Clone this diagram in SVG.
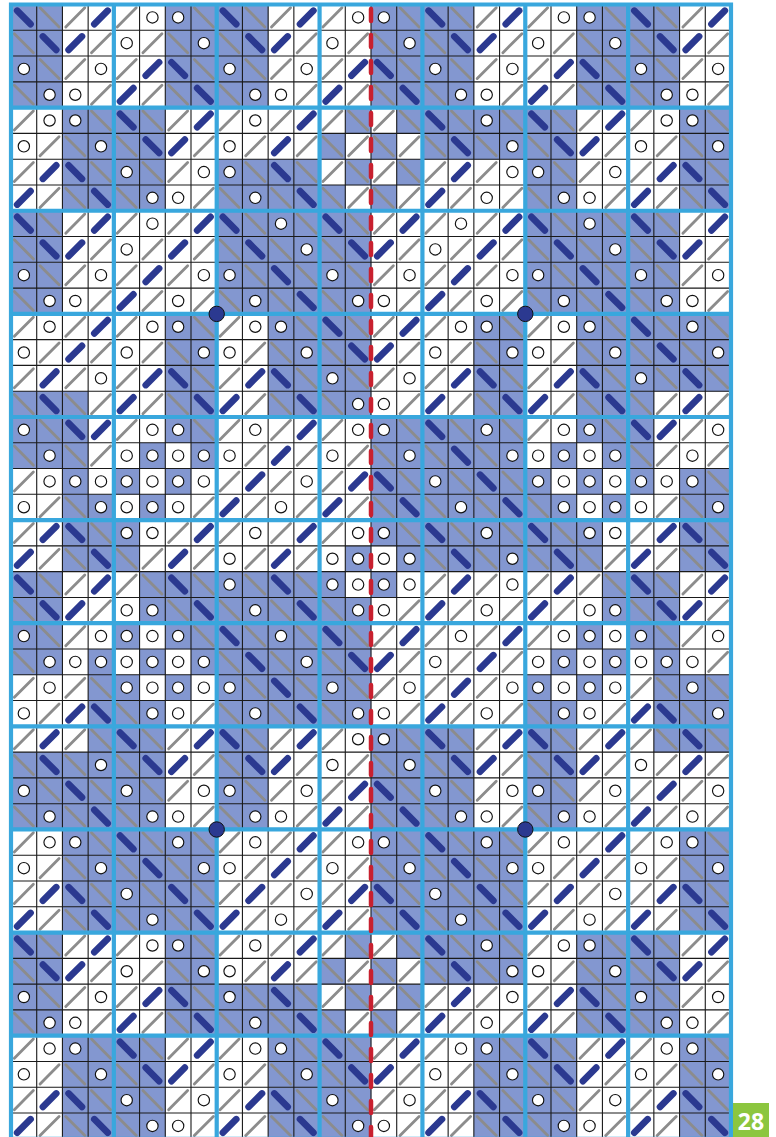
<svg xmlns="http://www.w3.org/2000/svg" width="776" height="1137" viewBox="0 0 776 1137">
<style>
.bl{fill:#8397d0}
.g{stroke:#8c8c8c;stroke-width:.11;stroke-linecap:round}
.t{stroke:#2b3990;stroke-width:.26;stroke-linecap:round}
.c{fill:#fff;stroke:#111;stroke-width:.045}
.thin{fill:none;stroke:#1a1a1a;stroke-width:1.1;vector-effect:non-scaling-stroke}
.blk{fill:none;stroke:#39a7dd;stroke-width:4.2;stroke-linecap:square;vector-effect:non-scaling-stroke}
.red{fill:none;stroke:#c8202f;stroke-width:4.5;stroke-linecap:round;stroke-dasharray:12 14}
.dot{fill:#2b3990;stroke:#111;stroke-width:1}
</style>
<defs>
<g id="s"><line class="g" x1=".13" y1=".87" x2=".87" y2=".13"/></g>
<g id="b"><rect class="bl" width="1.01" height="1.01"/><line class="g" x1=".13" y1=".13" x2=".87" y2=".87"/></g>
<g id="F"><line class="t" x1=".24" y1=".76" x2=".76" y2=".24"/></g>
<g id="K"><rect class="bl" width="1.01" height="1.01"/><line class="t" x1=".24" y1=".24" x2=".76" y2=".76"/></g>
<g id="o"><circle class="c" cx=".5" cy=".5" r=".22"/></g>
<g id="O"><rect class="bl" width="1.01" height="1.01"/><circle class="c" cx=".5" cy=".5" r=".22"/></g>
</defs>
<g id="chart" transform="translate(11 4.5) scale(25.714 25.78)">
<rect width="28" height="44" fill="#fff"/>
<g id="cells">
<g transform="translate(0 0)"><use href="#K"/><use href="#b" x="1"/><use href="#s" x="2"/><use href="#F" x="3"/><use href="#s" x="4"/><use href="#o" x="5"/><use href="#O" x="6"/><use href="#b" x="7"/><use href="#K" x="8"/><use href="#b" x="9"/><use href="#s" x="10"/><use href="#F" x="11"/><use href="#s" x="12"/><use href="#o" x="13"/><use href="#O" x="14"/><use href="#b" x="15"/><use href="#K" x="16"/><use href="#b" x="17"/><use href="#s" x="18"/><use href="#F" x="19"/><use href="#s" x="20"/><use href="#o" x="21"/><use href="#O" x="22"/><use href="#b" x="23"/><use href="#K" x="24"/><use href="#b" x="25"/><use href="#s" x="26"/><use href="#F" x="27"/></g>
<g transform="translate(0 1)"><use href="#b"/><use href="#K" x="1"/><use href="#F" x="2"/><use href="#s" x="3"/><use href="#o" x="4"/><use href="#s" x="5"/><use href="#b" x="6"/><use href="#O" x="7"/><use href="#b" x="8"/><use href="#K" x="9"/><use href="#F" x="10"/><use href="#s" x="11"/><use href="#o" x="12"/><use href="#s" x="13"/><use href="#b" x="14"/><use href="#O" x="15"/><use href="#b" x="16"/><use href="#K" x="17"/><use href="#F" x="18"/><use href="#s" x="19"/><use href="#o" x="20"/><use href="#s" x="21"/><use href="#b" x="22"/><use href="#O" x="23"/><use href="#b" x="24"/><use href="#K" x="25"/><use href="#F" x="26"/><use href="#s" x="27"/></g>
<g transform="translate(0 2)"><use href="#O"/><use href="#b" x="1"/><use href="#s" x="2"/><use href="#o" x="3"/><use href="#s" x="4"/><use href="#F" x="5"/><use href="#K" x="6"/><use href="#b" x="7"/><use href="#O" x="8"/><use href="#b" x="9"/><use href="#s" x="10"/><use href="#o" x="11"/><use href="#s" x="12"/><use href="#F" x="13"/><use href="#K" x="14"/><use href="#b" x="15"/><use href="#O" x="16"/><use href="#b" x="17"/><use href="#s" x="18"/><use href="#o" x="19"/><use href="#s" x="20"/><use href="#F" x="21"/><use href="#K" x="22"/><use href="#b" x="23"/><use href="#O" x="24"/><use href="#b" x="25"/><use href="#s" x="26"/><use href="#o" x="27"/></g>
<g transform="translate(0 3)"><use href="#b"/><use href="#O" x="1"/><use href="#o" x="2"/><use href="#s" x="3"/><use href="#F" x="4"/><use href="#s" x="5"/><use href="#b" x="6"/><use href="#K" x="7"/><use href="#b" x="8"/><use href="#O" x="9"/><use href="#o" x="10"/><use href="#s" x="11"/><use href="#F" x="12"/><use href="#s" x="13"/><use href="#b" x="14"/><use href="#K" x="15"/><use href="#b" x="16"/><use href="#O" x="17"/><use href="#o" x="18"/><use href="#s" x="19"/><use href="#F" x="20"/><use href="#s" x="21"/><use href="#b" x="22"/><use href="#K" x="23"/><use href="#b" x="24"/><use href="#O" x="25"/><use href="#o" x="26"/><use href="#s" x="27"/></g>
<g transform="translate(0 4)"><use href="#s"/><use href="#o" x="1"/><use href="#O" x="2"/><use href="#b" x="3"/><use href="#K" x="4"/><use href="#b" x="5"/><use href="#s" x="6"/><use href="#F" x="7"/><use href="#s" x="8"/><use href="#o" x="9"/><use href="#s" x="10"/><use href="#F" x="11"/><use href="#s" x="12"/><use href="#b" x="13"/><use href="#s" x="14"/><use href="#b" x="15"/><use href="#K" x="16"/><use href="#b" x="17"/><use href="#O" x="18"/><use href="#b" x="19"/><use href="#K" x="20"/><use href="#b" x="21"/><use href="#s" x="22"/><use href="#F" x="23"/><use href="#s" x="24"/><use href="#o" x="25"/><use href="#O" x="26"/><use href="#b" x="27"/></g>
<g transform="translate(0 5)"><use href="#o"/><use href="#s" x="1"/><use href="#b" x="2"/><use href="#O" x="3"/><use href="#b" x="4"/><use href="#K" x="5"/><use href="#F" x="6"/><use href="#s" x="7"/><use href="#o" x="8"/><use href="#s" x="9"/><use href="#F" x="10"/><use href="#s" x="11"/><use href="#b" x="12"/><use href="#s" x="13"/><use href="#b" x="14"/><use href="#s" x="15"/><use href="#b" x="16"/><use href="#K" x="17"/><use href="#b" x="18"/><use href="#O" x="19"/><use href="#b" x="20"/><use href="#K" x="21"/><use href="#F" x="22"/><use href="#s" x="23"/><use href="#o" x="24"/><use href="#s" x="25"/><use href="#b" x="26"/><use href="#O" x="27"/></g>
<g transform="translate(0 6)"><use href="#s"/><use href="#F" x="1"/><use href="#K" x="2"/><use href="#b" x="3"/><use href="#O" x="4"/><use href="#b" x="5"/><use href="#s" x="6"/><use href="#o" x="7"/><use href="#O" x="8"/><use href="#b" x="9"/><use href="#K" x="10"/><use href="#b" x="11"/><use href="#s" x="12"/><use href="#b" x="13"/><use href="#s" x="14"/><use href="#b" x="15"/><use href="#s" x="16"/><use href="#F" x="17"/><use href="#s" x="18"/><use href="#o" x="19"/><use href="#O" x="20"/><use href="#b" x="21"/><use href="#s" x="22"/><use href="#o" x="23"/><use href="#s" x="24"/><use href="#F" x="25"/><use href="#K" x="26"/><use href="#b" x="27"/></g>
<g transform="translate(0 7)"><use href="#F"/><use href="#s" x="1"/><use href="#b" x="2"/><use href="#K" x="3"/><use href="#b" x="4"/><use href="#O" x="5"/><use href="#o" x="6"/><use href="#s" x="7"/><use href="#b" x="8"/><use href="#O" x="9"/><use href="#b" x="10"/><use href="#K" x="11"/><use href="#b" x="12"/><use href="#s" x="13"/><use href="#b" x="14"/><use href="#s" x="15"/><use href="#F" x="16"/><use href="#s" x="17"/><use href="#o" x="18"/><use href="#s" x="19"/><use href="#b" x="20"/><use href="#O" x="21"/><use href="#o" x="22"/><use href="#s" x="23"/><use href="#F" x="24"/><use href="#s" x="25"/><use href="#b" x="26"/><use href="#K" x="27"/></g>
<g transform="translate(0 8)"><use href="#K"/><use href="#b" x="1"/><use href="#s" x="2"/><use href="#F" x="3"/><use href="#s" x="4"/><use href="#o" x="5"/><use href="#s" x="6"/><use href="#F" x="7"/><use href="#K" x="8"/><use href="#b" x="9"/><use href="#O" x="10"/><use href="#b" x="11"/><use href="#K" x="12"/><use href="#b" x="13"/><use href="#s" x="14"/><use href="#F" x="15"/><use href="#s" x="16"/><use href="#o" x="17"/><use href="#s" x="18"/><use href="#F" x="19"/><use href="#K" x="20"/><use href="#b" x="21"/><use href="#O" x="22"/><use href="#b" x="23"/><use href="#K" x="24"/><use href="#b" x="25"/><use href="#s" x="26"/><use href="#F" x="27"/></g>
<g transform="translate(0 9)"><use href="#b"/><use href="#K" x="1"/><use href="#F" x="2"/><use href="#s" x="3"/><use href="#o" x="4"/><use href="#s" x="5"/><use href="#F" x="6"/><use href="#s" x="7"/><use href="#b" x="8"/><use href="#K" x="9"/><use href="#b" x="10"/><use href="#O" x="11"/><use href="#b" x="12"/><use href="#K" x="13"/><use href="#F" x="14"/><use href="#s" x="15"/><use href="#o" x="16"/><use href="#s" x="17"/><use href="#F" x="18"/><use href="#s" x="19"/><use href="#b" x="20"/><use href="#K" x="21"/><use href="#b" x="22"/><use href="#O" x="23"/><use href="#b" x="24"/><use href="#K" x="25"/><use href="#F" x="26"/><use href="#s" x="27"/></g>
<g transform="translate(0 10)"><use href="#O"/><use href="#b" x="1"/><use href="#s" x="2"/><use href="#o" x="3"/><use href="#s" x="4"/><use href="#F" x="5"/><use href="#s" x="6"/><use href="#o" x="7"/><use href="#O" x="8"/><use href="#b" x="9"/><use href="#K" x="10"/><use href="#b" x="11"/><use href="#O" x="12"/><use href="#b" x="13"/><use href="#s" x="14"/><use href="#o" x="15"/><use href="#s" x="16"/><use href="#F" x="17"/><use href="#s" x="18"/><use href="#o" x="19"/><use href="#O" x="20"/><use href="#b" x="21"/><use href="#K" x="22"/><use href="#b" x="23"/><use href="#O" x="24"/><use href="#b" x="25"/><use href="#s" x="26"/><use href="#o" x="27"/></g>
<g transform="translate(0 11)"><use href="#b"/><use href="#O" x="1"/><use href="#o" x="2"/><use href="#s" x="3"/><use href="#F" x="4"/><use href="#s" x="5"/><use href="#o" x="6"/><use href="#s" x="7"/><use href="#b" x="8"/><use href="#O" x="9"/><use href="#b" x="10"/><use href="#K" x="11"/><use href="#b" x="12"/><use href="#O" x="13"/><use href="#o" x="14"/><use href="#s" x="15"/><use href="#F" x="16"/><use href="#s" x="17"/><use href="#o" x="18"/><use href="#s" x="19"/><use href="#b" x="20"/><use href="#O" x="21"/><use href="#b" x="22"/><use href="#K" x="23"/><use href="#b" x="24"/><use href="#O" x="25"/><use href="#o" x="26"/><use href="#s" x="27"/></g>
<g transform="translate(0 12)"><use href="#s"/><use href="#o" x="1"/><use href="#s" x="2"/><use href="#F" x="3"/><use href="#s" x="4"/><use href="#o" x="5"/><use href="#O" x="6"/><use href="#b" x="7"/><use href="#s" x="8"/><use href="#o" x="9"/><use href="#O" x="10"/><use href="#b" x="11"/><use href="#K" x="12"/><use href="#b" x="13"/><use href="#s" x="14"/><use href="#F" x="15"/><use href="#s" x="16"/><use href="#o" x="17"/><use href="#O" x="18"/><use href="#b" x="19"/><use href="#s" x="20"/><use href="#o" x="21"/><use href="#O" x="22"/><use href="#b" x="23"/><use href="#K" x="24"/><use href="#b" x="25"/><use href="#O" x="26"/><use href="#b" x="27"/></g>
<g transform="translate(0 13)"><use href="#o"/><use href="#s" x="1"/><use href="#F" x="2"/><use href="#s" x="3"/><use href="#o" x="4"/><use href="#s" x="5"/><use href="#b" x="6"/><use href="#O" x="7"/><use href="#o" x="8"/><use href="#s" x="9"/><use href="#b" x="10"/><use href="#O" x="11"/><use href="#b" x="12"/><use href="#K" x="13"/><use href="#F" x="14"/><use href="#s" x="15"/><use href="#o" x="16"/><use href="#s" x="17"/><use href="#b" x="18"/><use href="#O" x="19"/><use href="#o" x="20"/><use href="#s" x="21"/><use href="#b" x="22"/><use href="#O" x="23"/><use href="#b" x="24"/><use href="#K" x="25"/><use href="#b" x="26"/><use href="#O" x="27"/></g>
<g transform="translate(0 14)"><use href="#s"/><use href="#F" x="1"/><use href="#s" x="2"/><use href="#o" x="3"/><use href="#s" x="4"/><use href="#F" x="5"/><use href="#K" x="6"/><use href="#b" x="7"/><use href="#s" x="8"/><use href="#F" x="9"/><use href="#K" x="10"/><use href="#b" x="11"/><use href="#O" x="12"/><use href="#b" x="13"/><use href="#s" x="14"/><use href="#o" x="15"/><use href="#s" x="16"/><use href="#F" x="17"/><use href="#K" x="18"/><use href="#b" x="19"/><use href="#s" x="20"/><use href="#F" x="21"/><use href="#K" x="22"/><use href="#b" x="23"/><use href="#O" x="24"/><use href="#b" x="25"/><use href="#K" x="26"/><use href="#b" x="27"/></g>
<g transform="translate(0 15)"><use href="#b"/><use href="#K" x="1"/><use href="#b" x="2"/><use href="#s" x="3"/><use href="#F" x="4"/><use href="#s" x="5"/><use href="#b" x="6"/><use href="#K" x="7"/><use href="#F" x="8"/><use href="#s" x="9"/><use href="#b" x="10"/><use href="#K" x="11"/><use href="#b" x="12"/><use href="#O" x="13"/><use href="#o" x="14"/><use href="#s" x="15"/><use href="#F" x="16"/><use href="#s" x="17"/><use href="#b" x="18"/><use href="#K" x="19"/><use href="#F" x="20"/><use href="#s" x="21"/><use href="#b" x="22"/><use href="#K" x="23"/><use href="#b" x="24"/><use href="#s" x="25"/><use href="#F" x="26"/><use href="#s" x="27"/></g>
<g transform="translate(0 16)"><use href="#O"/><use href="#b" x="1"/><use href="#K" x="2"/><use href="#F" x="3"/><use href="#s" x="4"/><use href="#o" x="5"/><use href="#O" x="6"/><use href="#b" x="7"/><use href="#s" x="8"/><use href="#o" x="9"/><use href="#s" x="10"/><use href="#F" x="11"/><use href="#s" x="12"/><use href="#o" x="13"/><use href="#O" x="14"/><use href="#b" x="15"/><use href="#K" x="16"/><use href="#b" x="17"/><use href="#O" x="18"/><use href="#b" x="19"/><use href="#s" x="20"/><use href="#o" x="21"/><use href="#O" x="22"/><use href="#b" x="23"/><use href="#K" x="24"/><use href="#F" x="25"/><use href="#s" x="26"/><use href="#o" x="27"/></g>
<g transform="translate(0 17)"><use href="#b"/><use href="#O" x="1"/><use href="#b" x="2"/><use href="#s" x="3"/><use href="#o" x="4"/><use href="#O" x="5"/><use href="#o" x="6"/><use href="#O" x="7"/><use href="#o" x="8"/><use href="#s" x="9"/><use href="#F" x="10"/><use href="#s" x="11"/><use href="#o" x="12"/><use href="#s" x="13"/><use href="#b" x="14"/><use href="#O" x="15"/><use href="#b" x="16"/><use href="#K" x="17"/><use href="#b" x="18"/><use href="#O" x="19"/><use href="#o" x="20"/><use href="#O" x="21"/><use href="#o" x="22"/><use href="#O" x="23"/><use href="#b" x="24"/><use href="#s" x="25"/><use href="#o" x="26"/><use href="#s" x="27"/></g>
<g transform="translate(0 18)"><use href="#s"/><use href="#o" x="1"/><use href="#O" x="2"/><use href="#o" x="3"/><use href="#O" x="4"/><use href="#o" x="5"/><use href="#O" x="6"/><use href="#o" x="7"/><use href="#s" x="8"/><use href="#F" x="9"/><use href="#s" x="10"/><use href="#o" x="11"/><use href="#s" x="12"/><use href="#F" x="13"/><use href="#K" x="14"/><use href="#b" x="15"/><use href="#O" x="16"/><use href="#b" x="17"/><use href="#K" x="18"/><use href="#b" x="19"/><use href="#O" x="20"/><use href="#o" x="21"/><use href="#O" x="22"/><use href="#o" x="23"/><use href="#O" x="24"/><use href="#o" x="25"/><use href="#O" x="26"/><use href="#b" x="27"/></g>
<g transform="translate(0 19)"><use href="#o"/><use href="#s" x="1"/><use href="#b" x="2"/><use href="#O" x="3"/><use href="#o" x="4"/><use href="#O" x="5"/><use href="#o" x="6"/><use href="#s" x="7"/><use href="#F" x="8"/><use href="#s" x="9"/><use href="#o" x="10"/><use href="#s" x="11"/><use href="#F" x="12"/><use href="#s" x="13"/><use href="#b" x="14"/><use href="#K" x="15"/><use href="#b" x="16"/><use href="#O" x="17"/><use href="#b" x="18"/><use href="#K" x="19"/><use href="#b" x="20"/><use href="#O" x="21"/><use href="#o" x="22"/><use href="#O" x="23"/><use href="#o" x="24"/><use href="#s" x="25"/><use href="#b" x="26"/><use href="#O" x="27"/></g>
<g transform="translate(0 20)"><use href="#s"/><use href="#F" x="1"/><use href="#K" x="2"/><use href="#b" x="3"/><use href="#O" x="4"/><use href="#o" x="5"/><use href="#s" x="6"/><use href="#F" x="7"/><use href="#s" x="8"/><use href="#o" x="9"/><use href="#s" x="10"/><use href="#F" x="11"/><use href="#s" x="12"/><use href="#o" x="13"/><use href="#O" x="14"/><use href="#b" x="15"/><use href="#K" x="16"/><use href="#b" x="17"/><use href="#O" x="18"/><use href="#b" x="19"/><use href="#K" x="20"/><use href="#b" x="21"/><use href="#O" x="22"/><use href="#o" x="23"/><use href="#s" x="24"/><use href="#F" x="25"/><use href="#K" x="26"/><use href="#b" x="27"/></g>
<g transform="translate(0 21)"><use href="#F"/><use href="#s" x="1"/><use href="#b" x="2"/><use href="#K" x="3"/><use href="#b" x="4"/><use href="#s" x="5"/><use href="#F" x="6"/><use href="#s" x="7"/><use href="#o" x="8"/><use href="#s" x="9"/><use href="#F" x="10"/><use href="#s" x="11"/><use href="#o" x="12"/><use href="#O" x="13"/><use href="#o" x="14"/><use href="#O" x="15"/><use href="#b" x="16"/><use href="#K" x="17"/><use href="#b" x="18"/><use href="#O" x="19"/><use href="#b" x="20"/><use href="#K" x="21"/><use href="#b" x="22"/><use href="#s" x="23"/><use href="#F" x="24"/><use href="#s" x="25"/><use href="#b" x="26"/><use href="#K" x="27"/></g>
<g transform="translate(0 22)"><use href="#K"/><use href="#b" x="1"/><use href="#s" x="2"/><use href="#F" x="3"/><use href="#s" x="4"/><use href="#b" x="5"/><use href="#K" x="6"/><use href="#b" x="7"/><use href="#O" x="8"/><use href="#b" x="9"/><use href="#K" x="10"/><use href="#b" x="11"/><use href="#O" x="12"/><use href="#o" x="13"/><use href="#O" x="14"/><use href="#o" x="15"/><use href="#s" x="16"/><use href="#F" x="17"/><use href="#s" x="18"/><use href="#o" x="19"/><use href="#s" x="20"/><use href="#F" x="21"/><use href="#s" x="22"/><use href="#b" x="23"/><use href="#K" x="24"/><use href="#b" x="25"/><use href="#s" x="26"/><use href="#F" x="27"/></g>
<g transform="translate(0 23)"><use href="#b"/><use href="#K" x="1"/><use href="#F" x="2"/><use href="#s" x="3"/><use href="#o" x="4"/><use href="#O" x="5"/><use href="#b" x="6"/><use href="#K" x="7"/><use href="#b" x="8"/><use href="#O" x="9"/><use href="#b" x="10"/><use href="#K" x="11"/><use href="#b" x="12"/><use href="#O" x="13"/><use href="#o" x="14"/><use href="#s" x="15"/><use href="#F" x="16"/><use href="#s" x="17"/><use href="#o" x="18"/><use href="#s" x="19"/><use href="#F" x="20"/><use href="#s" x="21"/><use href="#o" x="22"/><use href="#O" x="23"/><use href="#b" x="24"/><use href="#K" x="25"/><use href="#F" x="26"/><use href="#s" x="27"/></g>
<g transform="translate(0 24)"><use href="#O"/><use href="#b" x="1"/><use href="#s" x="2"/><use href="#o" x="3"/><use href="#O" x="4"/><use href="#o" x="5"/><use href="#O" x="6"/><use href="#b" x="7"/><use href="#K" x="8"/><use href="#b" x="9"/><use href="#O" x="10"/><use href="#b" x="11"/><use href="#K" x="12"/><use href="#b" x="13"/><use href="#s" x="14"/><use href="#F" x="15"/><use href="#s" x="16"/><use href="#o" x="17"/><use href="#s" x="18"/><use href="#F" x="19"/><use href="#s" x="20"/><use href="#o" x="21"/><use href="#O" x="22"/><use href="#o" x="23"/><use href="#O" x="24"/><use href="#b" x="25"/><use href="#s" x="26"/><use href="#o" x="27"/></g>
<g transform="translate(0 25)"><use href="#b"/><use href="#O" x="1"/><use href="#o" x="2"/><use href="#O" x="3"/><use href="#o" x="4"/><use href="#O" x="5"/><use href="#o" x="6"/><use href="#O" x="7"/><use href="#b" x="8"/><use href="#K" x="9"/><use href="#b" x="10"/><use href="#O" x="11"/><use href="#b" x="12"/><use href="#K" x="13"/><use href="#F" x="14"/><use href="#s" x="15"/><use href="#o" x="16"/><use href="#s" x="17"/><use href="#F" x="18"/><use href="#s" x="19"/><use href="#o" x="20"/><use href="#O" x="21"/><use href="#o" x="22"/><use href="#O" x="23"/><use href="#o" x="24"/><use href="#O" x="25"/><use href="#o" x="26"/><use href="#s" x="27"/></g>
<g transform="translate(0 26)"><use href="#s"/><use href="#o" x="1"/><use href="#s" x="2"/><use href="#b" x="3"/><use href="#O" x="4"/><use href="#o" x="5"/><use href="#O" x="6"/><use href="#o" x="7"/><use href="#O" x="8"/><use href="#b" x="9"/><use href="#K" x="10"/><use href="#b" x="11"/><use href="#O" x="12"/><use href="#b" x="13"/><use href="#s" x="14"/><use href="#o" x="15"/><use href="#s" x="16"/><use href="#F" x="17"/><use href="#s" x="18"/><use href="#o" x="19"/><use href="#O" x="20"/><use href="#o" x="21"/><use href="#O" x="22"/><use href="#o" x="23"/><use href="#s" x="24"/><use href="#b" x="25"/><use href="#O" x="26"/><use href="#b" x="27"/></g>
<g transform="translate(0 27)"><use href="#o"/><use href="#s" x="1"/><use href="#F" x="2"/><use href="#K" x="3"/><use href="#b" x="4"/><use href="#O" x="5"/><use href="#o" x="6"/><use href="#s" x="7"/><use href="#b" x="8"/><use href="#O" x="9"/><use href="#b" x="10"/><use href="#K" x="11"/><use href="#b" x="12"/><use href="#O" x="13"/><use href="#o" x="14"/><use href="#s" x="15"/><use href="#F" x="16"/><use href="#s" x="17"/><use href="#o" x="18"/><use href="#s" x="19"/><use href="#b" x="20"/><use href="#O" x="21"/><use href="#o" x="22"/><use href="#s" x="23"/><use href="#F" x="24"/><use href="#K" x="25"/><use href="#b" x="26"/><use href="#O" x="27"/></g>
<g transform="translate(0 28)"><use href="#s"/><use href="#F" x="1"/><use href="#s" x="2"/><use href="#b" x="3"/><use href="#K" x="4"/><use href="#b" x="5"/><use href="#s" x="6"/><use href="#F" x="7"/><use href="#K" x="8"/><use href="#b" x="9"/><use href="#s" x="10"/><use href="#F" x="11"/><use href="#s" x="12"/><use href="#o" x="13"/><use href="#O" x="14"/><use href="#b" x="15"/><use href="#K" x="16"/><use href="#b" x="17"/><use href="#s" x="18"/><use href="#F" x="19"/><use href="#K" x="20"/><use href="#b" x="21"/><use href="#s" x="22"/><use href="#F" x="23"/><use href="#s" x="24"/><use href="#b" x="25"/><use href="#K" x="26"/><use href="#b" x="27"/></g>
<g transform="translate(0 29)"><use href="#b"/><use href="#K" x="1"/><use href="#b" x="2"/><use href="#O" x="3"/><use href="#b" x="4"/><use href="#K" x="5"/><use href="#F" x="6"/><use href="#s" x="7"/><use href="#b" x="8"/><use href="#K" x="9"/><use href="#F" x="10"/><use href="#s" x="11"/><use href="#o" x="12"/><use href="#s" x="13"/><use href="#b" x="14"/><use href="#O" x="15"/><use href="#b" x="16"/><use href="#K" x="17"/><use href="#F" x="18"/><use href="#s" x="19"/><use href="#b" x="20"/><use href="#K" x="21"/><use href="#F" x="22"/><use href="#s" x="23"/><use href="#o" x="24"/><use href="#s" x="25"/><use href="#F" x="26"/><use href="#s" x="27"/></g>
<g transform="translate(0 30)"><use href="#O"/><use href="#b" x="1"/><use href="#K" x="2"/><use href="#b" x="3"/><use href="#O" x="4"/><use href="#b" x="5"/><use href="#s" x="6"/><use href="#o" x="7"/><use href="#O" x="8"/><use href="#b" x="9"/><use href="#s" x="10"/><use href="#o" x="11"/><use href="#s" x="12"/><use href="#F" x="13"/><use href="#K" x="14"/><use href="#b" x="15"/><use href="#O" x="16"/><use href="#b" x="17"/><use href="#s" x="18"/><use href="#o" x="19"/><use href="#O" x="20"/><use href="#b" x="21"/><use href="#s" x="22"/><use href="#o" x="23"/><use href="#s" x="24"/><use href="#F" x="25"/><use href="#s" x="26"/><use href="#o" x="27"/></g>
<g transform="translate(0 31)"><use href="#b"/><use href="#O" x="1"/><use href="#b" x="2"/><use href="#K" x="3"/><use href="#b" x="4"/><use href="#O" x="5"/><use href="#o" x="6"/><use href="#s" x="7"/><use href="#b" x="8"/><use href="#O" x="9"/><use href="#o" x="10"/><use href="#s" x="11"/><use href="#F" x="12"/><use href="#s" x="13"/><use href="#b" x="14"/><use href="#K" x="15"/><use href="#b" x="16"/><use href="#O" x="17"/><use href="#o" x="18"/><use href="#s" x="19"/><use href="#b" x="20"/><use href="#O" x="21"/><use href="#o" x="22"/><use href="#s" x="23"/><use href="#F" x="24"/><use href="#s" x="25"/><use href="#o" x="26"/><use href="#s" x="27"/></g>
<g transform="translate(0 32)"><use href="#s"/><use href="#o" x="1"/><use href="#O" x="2"/><use href="#b" x="3"/><use href="#K" x="4"/><use href="#b" x="5"/><use href="#O" x="6"/><use href="#b" x="7"/><use href="#s" x="8"/><use href="#o" x="9"/><use href="#s" x="10"/><use href="#F" x="11"/><use href="#s" x="12"/><use href="#o" x="13"/><use href="#O" x="14"/><use href="#b" x="15"/><use href="#K" x="16"/><use href="#b" x="17"/><use href="#O" x="18"/><use href="#b" x="19"/><use href="#s" x="20"/><use href="#o" x="21"/><use href="#s" x="22"/><use href="#F" x="23"/><use href="#s" x="24"/><use href="#o" x="25"/><use href="#O" x="26"/><use href="#b" x="27"/></g>
<g transform="translate(0 33)"><use href="#o"/><use href="#s" x="1"/><use href="#b" x="2"/><use href="#O" x="3"/><use href="#b" x="4"/><use href="#K" x="5"/><use href="#b" x="6"/><use href="#O" x="7"/><use href="#o" x="8"/><use href="#s" x="9"/><use href="#F" x="10"/><use href="#s" x="11"/><use href="#o" x="12"/><use href="#s" x="13"/><use href="#b" x="14"/><use href="#O" x="15"/><use href="#b" x="16"/><use href="#K" x="17"/><use href="#b" x="18"/><use href="#O" x="19"/><use href="#o" x="20"/><use href="#s" x="21"/><use href="#F" x="22"/><use href="#s" x="23"/><use href="#o" x="24"/><use href="#s" x="25"/><use href="#b" x="26"/><use href="#O" x="27"/></g>
<g transform="translate(0 34)"><use href="#s"/><use href="#F" x="1"/><use href="#K" x="2"/><use href="#b" x="3"/><use href="#O" x="4"/><use href="#b" x="5"/><use href="#K" x="6"/><use href="#b" x="7"/><use href="#s" x="8"/><use href="#F" x="9"/><use href="#s" x="10"/><use href="#o" x="11"/><use href="#s" x="12"/><use href="#F" x="13"/><use href="#K" x="14"/><use href="#b" x="15"/><use href="#O" x="16"/><use href="#b" x="17"/><use href="#K" x="18"/><use href="#b" x="19"/><use href="#s" x="20"/><use href="#F" x="21"/><use href="#s" x="22"/><use href="#o" x="23"/><use href="#s" x="24"/><use href="#F" x="25"/><use href="#K" x="26"/><use href="#b" x="27"/></g>
<g transform="translate(0 35)"><use href="#F"/><use href="#s" x="1"/><use href="#b" x="2"/><use href="#K" x="3"/><use href="#b" x="4"/><use href="#O" x="5"/><use href="#b" x="6"/><use href="#K" x="7"/><use href="#F" x="8"/><use href="#s" x="9"/><use href="#o" x="10"/><use href="#s" x="11"/><use href="#F" x="12"/><use href="#s" x="13"/><use href="#b" x="14"/><use href="#K" x="15"/><use href="#b" x="16"/><use href="#O" x="17"/><use href="#b" x="18"/><use href="#K" x="19"/><use href="#F" x="20"/><use href="#s" x="21"/><use href="#o" x="22"/><use href="#s" x="23"/><use href="#F" x="24"/><use href="#s" x="25"/><use href="#b" x="26"/><use href="#K" x="27"/></g>
<g transform="translate(0 36)"><use href="#K"/><use href="#b" x="1"/><use href="#s" x="2"/><use href="#F" x="3"/><use href="#s" x="4"/><use href="#o" x="5"/><use href="#O" x="6"/><use href="#b" x="7"/><use href="#s" x="8"/><use href="#o" x="9"/><use href="#s" x="10"/><use href="#F" x="11"/><use href="#s" x="12"/><use href="#b" x="13"/><use href="#s" x="14"/><use href="#b" x="15"/><use href="#K" x="16"/><use href="#b" x="17"/><use href="#O" x="18"/><use href="#b" x="19"/><use href="#s" x="20"/><use href="#o" x="21"/><use href="#O" x="22"/><use href="#b" x="23"/><use href="#K" x="24"/><use href="#b" x="25"/><use href="#s" x="26"/><use href="#F" x="27"/></g>
<g transform="translate(0 37)"><use href="#b"/><use href="#K" x="1"/><use href="#F" x="2"/><use href="#s" x="3"/><use href="#o" x="4"/><use href="#s" x="5"/><use href="#b" x="6"/><use href="#O" x="7"/><use href="#o" x="8"/><use href="#s" x="9"/><use href="#F" x="10"/><use href="#s" x="11"/><use href="#b" x="12"/><use href="#s" x="13"/><use href="#b" x="14"/><use href="#s" x="15"/><use href="#b" x="16"/><use href="#K" x="17"/><use href="#b" x="18"/><use href="#O" x="19"/><use href="#o" x="20"/><use href="#s" x="21"/><use href="#b" x="22"/><use href="#O" x="23"/><use href="#b" x="24"/><use href="#K" x="25"/><use href="#F" x="26"/><use href="#s" x="27"/></g>
<g transform="translate(0 38)"><use href="#O"/><use href="#b" x="1"/><use href="#s" x="2"/><use href="#o" x="3"/><use href="#s" x="4"/><use href="#F" x="5"/><use href="#K" x="6"/><use href="#b" x="7"/><use href="#O" x="8"/><use href="#b" x="9"/><use href="#K" x="10"/><use href="#b" x="11"/><use href="#s" x="12"/><use href="#b" x="13"/><use href="#s" x="14"/><use href="#b" x="15"/><use href="#s" x="16"/><use href="#F" x="17"/><use href="#s" x="18"/><use href="#o" x="19"/><use href="#s" x="20"/><use href="#F" x="21"/><use href="#K" x="22"/><use href="#b" x="23"/><use href="#O" x="24"/><use href="#b" x="25"/><use href="#s" x="26"/><use href="#o" x="27"/></g>
<g transform="translate(0 39)"><use href="#b"/><use href="#O" x="1"/><use href="#o" x="2"/><use href="#s" x="3"/><use href="#F" x="4"/><use href="#s" x="5"/><use href="#b" x="6"/><use href="#K" x="7"/><use href="#b" x="8"/><use href="#O" x="9"/><use href="#b" x="10"/><use href="#K" x="11"/><use href="#b" x="12"/><use href="#s" x="13"/><use href="#b" x="14"/><use href="#s" x="15"/><use href="#F" x="16"/><use href="#s" x="17"/><use href="#o" x="18"/><use href="#s" x="19"/><use href="#F" x="20"/><use href="#s" x="21"/><use href="#b" x="22"/><use href="#K" x="23"/><use href="#b" x="24"/><use href="#O" x="25"/><use href="#o" x="26"/><use href="#s" x="27"/></g>
<g transform="translate(0 40)"><use href="#s"/><use href="#o" x="1"/><use href="#O" x="2"/><use href="#b" x="3"/><use href="#K" x="4"/><use href="#b" x="5"/><use href="#s" x="6"/><use href="#F" x="7"/><use href="#s" x="8"/><use href="#o" x="9"/><use href="#O" x="10"/><use href="#b" x="11"/><use href="#K" x="12"/><use href="#b" x="13"/><use href="#s" x="14"/><use href="#F" x="15"/><use href="#s" x="16"/><use href="#o" x="17"/><use href="#O" x="18"/><use href="#b" x="19"/><use href="#K" x="20"/><use href="#b" x="21"/><use href="#s" x="22"/><use href="#F" x="23"/><use href="#s" x="24"/><use href="#o" x="25"/><use href="#O" x="26"/><use href="#b" x="27"/></g>
<g transform="translate(0 41)"><use href="#o"/><use href="#s" x="1"/><use href="#b" x="2"/><use href="#O" x="3"/><use href="#b" x="4"/><use href="#K" x="5"/><use href="#F" x="6"/><use href="#s" x="7"/><use href="#o" x="8"/><use href="#s" x="9"/><use href="#b" x="10"/><use href="#O" x="11"/><use href="#b" x="12"/><use href="#K" x="13"/><use href="#F" x="14"/><use href="#s" x="15"/><use href="#o" x="16"/><use href="#s" x="17"/><use href="#b" x="18"/><use href="#O" x="19"/><use href="#b" x="20"/><use href="#K" x="21"/><use href="#F" x="22"/><use href="#s" x="23"/><use href="#o" x="24"/><use href="#s" x="25"/><use href="#b" x="26"/><use href="#O" x="27"/></g>
<g transform="translate(0 42)"><use href="#s"/><use href="#F" x="1"/><use href="#K" x="2"/><use href="#b" x="3"/><use href="#O" x="4"/><use href="#b" x="5"/><use href="#s" x="6"/><use href="#o" x="7"/><use href="#s" x="8"/><use href="#F" x="9"/><use href="#K" x="10"/><use href="#b" x="11"/><use href="#O" x="12"/><use href="#b" x="13"/><use href="#s" x="14"/><use href="#o" x="15"/><use href="#s" x="16"/><use href="#F" x="17"/><use href="#K" x="18"/><use href="#b" x="19"/><use href="#O" x="20"/><use href="#b" x="21"/><use href="#s" x="22"/><use href="#o" x="23"/><use href="#s" x="24"/><use href="#F" x="25"/><use href="#K" x="26"/><use href="#b" x="27"/></g>
<g transform="translate(0 43)"><use href="#F"/><use href="#s" x="1"/><use href="#b" x="2"/><use href="#K" x="3"/><use href="#b" x="4"/><use href="#O" x="5"/><use href="#o" x="6"/><use href="#s" x="7"/><use href="#F" x="8"/><use href="#s" x="9"/><use href="#b" x="10"/><use href="#K" x="11"/><use href="#b" x="12"/><use href="#O" x="13"/><use href="#o" x="14"/><use href="#s" x="15"/><use href="#F" x="16"/><use href="#s" x="17"/><use href="#b" x="18"/><use href="#K" x="19"/><use href="#b" x="20"/><use href="#O" x="21"/><use href="#o" x="22"/><use href="#s" x="23"/><use href="#F" x="24"/><use href="#s" x="25"/><use href="#b" x="26"/><use href="#K" x="27"/></g>
</g>
<path id="thin-grid" class="thin" d="M1 0V44M2 0V44M3 0V44M5 0V44M6 0V44M7 0V44M9 0V44M10 0V44M11 0V44M13 0V44M14 0V44M15 0V44M17 0V44M18 0V44M19 0V44M21 0V44M22 0V44M23 0V44M25 0V44M26 0V44M27 0V44M0 1H28M0 2H28M0 3H28M0 5H28M0 6H28M0 7H28M0 9H28M0 10H28M0 11H28M0 13H28M0 14H28M0 15H28M0 17H28M0 18H28M0 19H28M0 21H28M0 22H28M0 23H28M0 25H28M0 26H28M0 27H28M0 29H28M0 30H28M0 31H28M0 33H28M0 34H28M0 35H28M0 37H28M0 38H28M0 39H28M0 41H28M0 42H28M0 43H28"/>
<path id="block-grid" class="blk" d="M0 0V44M4 0V44M8 0V44M12 0V44M16 0V44M20 0V44M24 0V44M28 0V44M0 0H28M0 4H28M0 8H28M0 12H28M0 16H28M0 20H28M0 24H28M0 28H28M0 32H28M0 36H28M0 40H28M0 44H28"/>
</g>
<line id="center-line" class="red" x1="371" y1="9" x2="371" y2="1137"/>
<g id="markers">
<circle class="dot" cx="216.7" cy="313.9" r="7.7"/>
<circle class="dot" cx="525.3" cy="313.9" r="7.7"/>
<circle class="dot" cx="216.7" cy="829.5" r="7.7"/>
<circle class="dot" cx="525.3" cy="829.5" r="7.7"/>
</g>
<g id="page-number">
<rect x="733" y="1103" width="36" height="34" fill="#8cc63f"/>
<text x="751" y="1130" font-family="'Open Sans', 'DejaVu Sans', sans-serif" font-weight="700" font-size="23" fill="#fff" text-anchor="middle">28</text>
</g>
</svg>
